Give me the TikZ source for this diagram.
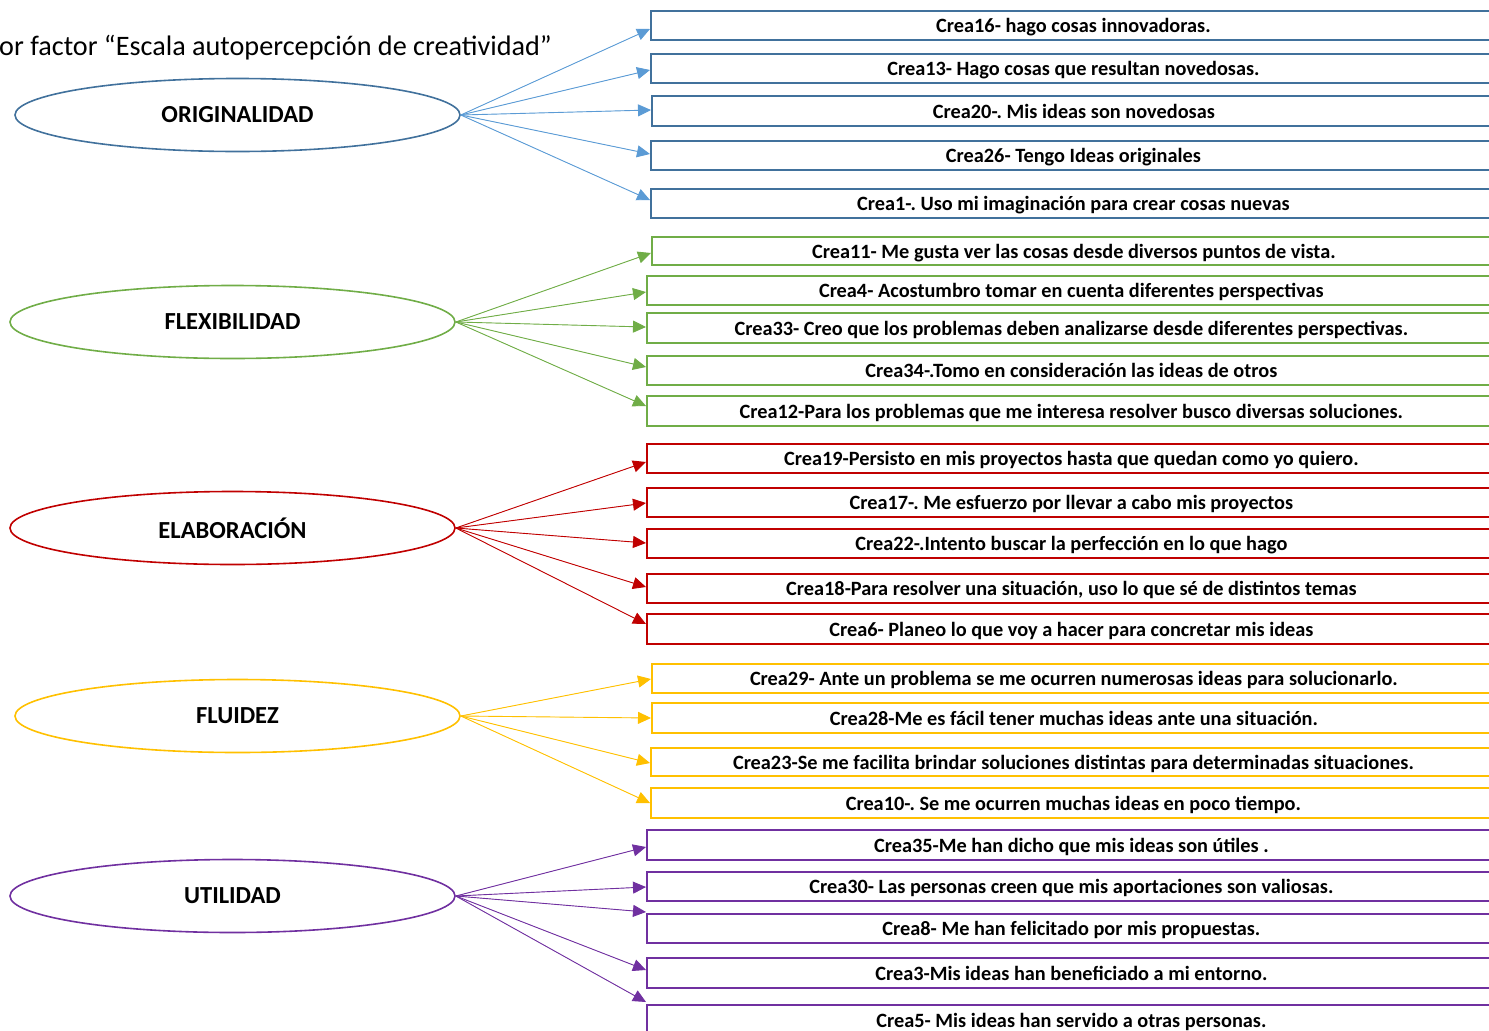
\documentclass[tikz,border=0pt]{standalone}
\usepackage{fontspec}
\setmainfont{Carlito}
\usetikzlibrary{arrows.meta,shapes.geometric}
\frenchspacing

\definecolor{origline}{HTML}{41719C}
\definecolor{origarrow}{HTML}{5B9BD5}
\definecolor{flexline}{HTML}{70AD47}
\definecolor{elabline}{HTML}{C00000}
\definecolor{fluline}{HTML}{FFC000}
\definecolor{utilline}{HTML}{7030A0}

\tikzset{
  factor/.style={ellipse, line width=1.6pt, inner sep=0pt,
    minimum width=445pt, minimum height=73pt,
    font=\bfseries\fontsize{24.5}{28}\selectfont},
  itembox/.style={rectangle, line width=1.8pt, inner sep=0pt, anchor=north west,
    text height=17pt, text depth=2pt,
    font=\bfseries\fontsize{20.3}{24}\selectfont},
  conn/.style={line width=0.9pt, -{Triangle[length=13pt,width=12pt]}},
}

% \critem{name}{box colour}{arrow colour}{left}{top}{bottom}{arrow y}{text}{factor}
\newcommand\critem[9]{%
  \node[itembox, draw=#2, minimum width={(1495-#4)*1pt}, minimum height={(#6-#5)*1pt}]
    (#1) at (#4,#5) {#8};
  \coordinate (#1tip) at (#4,#7);
  \draw[conn, draw=#3, fill=#3] (#9.east) -- (#1tip);
}

\begin{document}
\begin{tikzpicture}[x=1pt,y=-1pt]
\useasboundingbox (0,0) rectangle (1489,1031);
\clip (0,0) rectangle (1489,1031);

\node[anchor=west, inner sep=0pt, font=\fontsize{28.2}{32}\selectfont] (title) at (-1,48)
  {or factor “Escala autopercepción de creatividad”};

% factors
\node[factor, draw=origline] (orig) at (237.5,115) {ORIGINALIDAD};
\node[factor, draw=flexline] (flex) at (232.5,322) {FLEXIBILIDAD};
\node[factor, draw=elabline] (elab) at (232.5,528) {ELABORACIÓN};
\node[factor, draw=fluline]  (flu)  at (237.5,716) {FLUIDEZ};
\node[factor, draw=utilline] (util) at (232.5,896) {UTILIDAD};

% originalidad
\critem{c16}{origline}{origarrow}{650}{10}{39}{29}{Crea16- hago cosas innovadoras.}{orig}
\critem{c13}{origline}{origarrow}{650}{53}{82}{70}{Crea13- Hago cosas que resultan novedosas.}{orig}
\critem{c20}{origline}{origarrow}{651}{95}{125}{110}{Crea20-. Mis ideas son novedosas}{orig}
\critem{c26}{origline}{origarrow}{650}{140}{169}{154}{Crea26- Tengo Ideas originales}{orig}
\critem{c1}{origline}{origarrow}{650}{188}{217}{200}{Crea1-. Uso mi imaginación para crear cosas nuevas}{orig}

% flexibilidad
\critem{c11}{flexline}{flexline}{651}{236}{264}{253}{Crea11- Me gusta ver las cosas desde diversos puntos de vista.}{flex}
\critem{c4}{flexline}{flexline}{646}{275}{304}{292}{Crea4- Acostumbro tomar en cuenta diferentes perspectivas}{flex}
\critem{c33}{flexline}{flexline}{646}{312}{342}{327}{Crea33- Creo que los problemas deben analizarse desde diferentes perspectivas.}{flex}
\critem{c34}{flexline}{flexline}{646}{355}{384}{367}{Crea34-.Tomo en consideración las ideas de otros}{flex}
\critem{c12}{flexline}{flexline}{646}{395}{425}{406}{Crea12-Para los problemas que me interesa resolver busco diversas soluciones.}{flex}

% elaboracion
\critem{c19}{elabline}{elabline}{646}{443}{472}{462}{Crea19-Persisto en mis proyectos hasta que quedan como yo quiero.}{elab}
\critem{c17}{elabline}{elabline}{646}{487}{516}{503}{Crea17-. Me esfuerzo por llevar a cabo mis proyectos}{elab}
\critem{c22}{elabline}{elabline}{646}{528}{557}{543}{Crea22-.Intento buscar la perfección en lo que hago}{elab}
\critem{c18}{elabline}{elabline}{646}{573}{602}{587}{Crea18-Para resolver una situación, uso lo que sé de distintos temas}{elab}
\critem{c6}{elabline}{elabline}{646}{613}{643}{624}{Crea6- Planeo lo que voy a hacer para concretar mis ideas}{elab}

% fluidez
\critem{c29}{fluline}{fluline}{651}{663}{692}{679}{Crea29- Ante un problema se me ocurren numerosas ideas para solucionarlo.}{flu}
\critem{c28}{fluline}{fluline}{651}{702}{732}{718}{Crea28-Me es fácil tener muchas ideas ante una situación.}{flu}
\critem{c23}{fluline}{fluline}{650}{747}{775}{763}{Crea23-Se me facilita brindar soluciones distintas para determinadas situaciones.}{flu}
\critem{c10}{fluline}{fluline}{650}{787}{817}{803}{Crea10-. Se me ocurren muchas ideas en poco tiempo.}{flu}

% utilidad
\critem{c35}{utilline}{utilline}{646}{829}{859}{847}{Crea35-Me han dicho que mis ideas son útiles .}{util}
\critem{c30}{utilline}{utilline}{646}{871}{900}{887}{Crea30- Las personas creen que mis aportaciones son valiosas.}{util}
\critem{c8}{utilline}{utilline}{646}{913}{942}{912}{Crea8- Me han felicitado por mis propuestas.}{util}
\critem{c3}{utilline}{utilline}{646}{957}{987}{970}{Crea3-Mis ideas han beneficiado a mi entorno.}{util}
\critem{c5}{utilline}{utilline}{646}{1004}{1034}{1002}{Crea5- Mis ideas han servido a otras personas.}{util}
\end{tikzpicture}
\end{document}
